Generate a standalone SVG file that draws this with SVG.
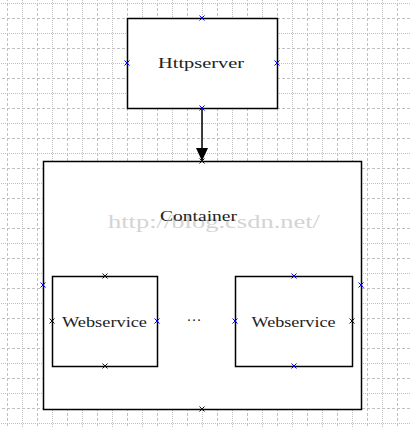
<svg xmlns="http://www.w3.org/2000/svg" width="410" height="427" viewBox="0 0 410 427">
<style>
.box{fill:#fff;stroke:#000;stroke-width:1.5}
.lbl{font-family:"Liberation Serif","DejaVu Serif",serif;font-size:15px;fill:#222;text-anchor:middle}
.wm{font-family:"Liberation Serif","DejaVu Serif",serif;font-size:18px;fill:#d4d4d4}
.pb{stroke:#0000ff;stroke-width:1;fill:none}
.pk{stroke:#111;stroke-width:1;fill:none}
.conn{stroke:#000;stroke-width:1.5;fill:none}
</style>
<defs>
<pattern id="grid" x="7" y="18" width="30" height="30" patternUnits="userSpaceOnUse">
<line x1="0.5" y1="0" x2="0.5" y2="30" stroke="#c0c0c0" stroke-dasharray="3 2"/>
<line x1="15.5" y1="0" x2="15.5" y2="30" stroke="#c0c0c0" stroke-dasharray="1 1"/>
<line x1="0" y1="0.5" x2="30" y2="0.5" stroke="#c0c0c0" stroke-dasharray="3 2"/>
<line x1="0" y1="15.5" x2="30" y2="15.5" stroke="#c0c0c0" stroke-dasharray="1 1"/>
</pattern>
<path id="x" d="M-2.5,-2.5 L2.5,2.5 M-2.5,2.5 L2.5,-2.5"/>
<marker id="arrow" markerWidth="13" markerHeight="12" refX="13" refY="6" orient="auto" markerUnits="userSpaceOnUse" viewBox="0 0 13 12">
<path d="M0,0 L13,6 L0,12 Z" fill="#000"/>
</marker>
</defs>
<rect width="410" height="427" fill="#fff"/>
<rect width="410" height="427" fill="url(#grid)"/>

<g id="connectors">
<line class="conn" x1="202" y1="108" x2="202" y2="161" marker-end="url(#arrow)"/>
</g>

<g id="container">
<rect class="box" x="43.5" y="161.5" width="318" height="248"/>
<text class="wm" x="108" y="228" textLength="212" lengthAdjust="spacingAndGlyphs">http://blog.csdn.net/</text>
<text class="lbl" x="198.5" y="221" textLength="77" lengthAdjust="spacingAndGlyphs">Container</text>
<use href="#x" class="pb" x="43" y="285"/>
<use href="#x" class="pb" x="361" y="285"/>
<use href="#x" class="pk" x="202" y="161"/>
<use href="#x" class="pk" x="202" y="409"/>
</g>

<g id="httpserver">
<rect class="box" x="127.5" y="18.5" width="150" height="90"/>
<text class="lbl" x="201" y="68" textLength="86" lengthAdjust="spacingAndGlyphs">Httpserver</text>
<use href="#x" class="pb" x="202" y="18"/>
<use href="#x" class="pb" x="127" y="63"/>
<use href="#x" class="pb" x="277" y="63"/>
<use href="#x" class="pb" x="202" y="108"/>
</g>

<g id="webservice1">
<rect class="box" x="52.5" y="276.5" width="105" height="90"/>
<text class="lbl" x="104.5" y="327" textLength="85" lengthAdjust="spacingAndGlyphs">Webservice</text>
<use href="#x" class="pk" x="105" y="276"/>
<use href="#x" class="pk" x="52" y="321"/>
<use href="#x" class="pb" x="157" y="321"/>
<use href="#x" class="pk" x="105" y="366"/>
</g>

<g id="ellipsis">
<text class="lbl" x="194" y="325">···</text>
</g>

<g id="webservice2">
<rect class="box" x="235.5" y="276.5" width="117" height="90"/>
<text class="lbl" x="293.5" y="327" textLength="84" lengthAdjust="spacingAndGlyphs">Webservice</text>
<use href="#x" class="pb" x="294" y="276"/>
<use href="#x" class="pb" x="235" y="321"/>
<use href="#x" class="pk" x="352" y="321"/>
<use href="#x" class="pb" x="294" y="366"/>
</g>
</svg>
